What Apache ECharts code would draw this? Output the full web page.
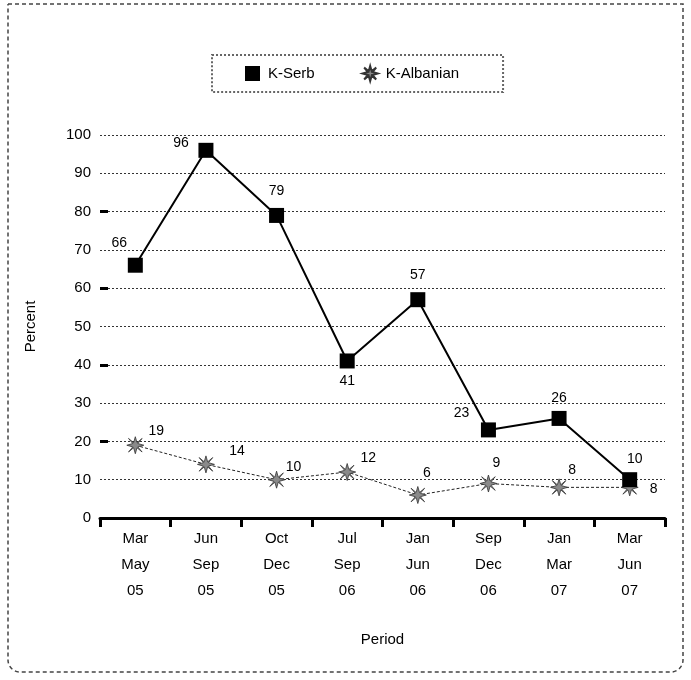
<!DOCTYPE html>
<html><head><meta charset="utf-8">
<script src="https://cdn.jsdelivr.net/npm/echarts@6/dist/echarts.min.js"></script>
<style>html,body{margin:0;padding:0;background:#fff}#c{width:691px;height:680px}</style>
</head><body><div id="c"></div>
<script>
const categories = ['Mar\nMay\n05','Jun\nSep\n05','Oct\nDec\n05','Jul\nSep\n06','Jan\nJun\n06','Sep\nDec\n06','Jan\nMar\n07','Mar\nJun\n07'];
const kSerb = [66, 96, 79, 41, 57, 23, 26, 10];
const kAlbanian = [19, 14, 10, 12, 6, 9, 8, 8];
// label offsets (style only)
const serbLabelOffset = [[-16,-22],[-25,-7],[0,-24],[0,20],[0,-25],[-27,-17],[0,-20],[5,-21]];
const albLabelOffset = [[21,-14],[31,-13],[17,-13],[21,-14],[9,-22],[8,-20],[13,-17],[24,2]];

const FONT = '"Liberation Sans", Arial, sans-serif';
const snow = 'path://M10,0 L12,7 L18,2 L13,8 L20,10 L13,12 L18,18 L12,13 L10,20 L8,13 L2,18 L7,12 L0,10 L7,8 L2,2 L8,7 Z';

const chart = echarts.init(document.getElementById('c'));
const G1 = {left:100, right:26, top:135, bottom:162};
const H = 680 - G1.top - G1.bottom;
const y80 = G1.top + H*0.2, y20 = G1.top + H*0.8;

chart.setOption({
  animation:false,
  textStyle:{fontFamily:FONT},
  graphic:[{type:'rect', shape:{x:8,y:4,width:675,height:668,r:[0,0,12,12]}, style:{fill:'none',stroke:'#444',lineWidth:1.5,lineDash:[4,3]}}],
  legend:{
    top:55, left:212,
    itemGap:47, itemWidth:15, itemHeight:15,
    padding:[10,44,10,33],
    borderColor:'#666', borderWidth:2, borderType:'dotted',
    textStyle:{fontFamily:FONT, fontSize:15, color:'#000', padding:[0,0,0,3]},
    data:[{name:'K-Serb', icon:'rect'},{name:'K-Albanian', icon:snow}]
  },
  grid:[G1, {left:100, right:26, top:y80, bottom:680-y20}],
  xAxis:[{
    type:'category', data:categories, boundaryGap:true,
    name:'Period', nameLocation:'middle', nameGap:114,
    nameTextStyle:{fontFamily:FONT, fontSize:15, color:'#000'},
    axisLine:{lineStyle:{color:'#000', width:3}},
    axisTick:{show:true, alignWithLabel:false, length:9, lineStyle:{color:'#000',width:3}},
    axisLabel:{color:'#000', fontSize:15, lineHeight:26, margin:8, fontFamily:FONT},
    splitLine:{show:false}
  },{type:'category', gridIndex:1, data:categories, show:false}],
  yAxis:[{
    type:'value', min:0, max:100, interval:10,
    name:'Percent', nameLocation:'middle', nameGap:62, nameRotate:90,
    nameTextStyle:{fontFamily:FONT, fontSize:15, color:'#000'},
    axisLine:{show:false}, axisTick:{show:false},
    axisLabel:{color:'#000', fontSize:15, margin:9, fontFamily:FONT},
    splitLine:{lineStyle:{color:'#333', type:[2,2], width:1}}
  },{
    type:'value', gridIndex:1, min:20, max:80, interval:20,
    axisLine:{show:false}, axisLabel:{show:false}, splitLine:{show:false},
    axisTick:{show:true, inside:true, length:8, lineStyle:{color:'#000', width:3}}
  }],
  series:[{
    name:'K-Serb', type:'line',
    data:kSerb.map((v,i)=>({value:v, label:{offset:serbLabelOffset[i]}})),
    symbol:'rect', symbolSize:15,
    itemStyle:{color:'#000'},
    lineStyle:{color:'#000', width:2},
    label:{show:true, position:'inside', color:'#000', fontSize:14, fontFamily:FONT},
    z:3
  },{
    name:'K-Albanian', type:'line',
    data:kAlbanian.map((v,i)=>({value:v, label:{offset:albLabelOffset[i]}})),
    symbol:snow, symbolSize:17,
    itemStyle:{color:'#8a8a8a', borderColor:'#333', borderWidth:0.8},
    lineStyle:{color:'#222', width:1, type:[3,2]},
    label:{show:true, position:'inside', color:'#000', fontSize:14, fontFamily:FONT},
    z:2
  }]
});
</script></body></html>
